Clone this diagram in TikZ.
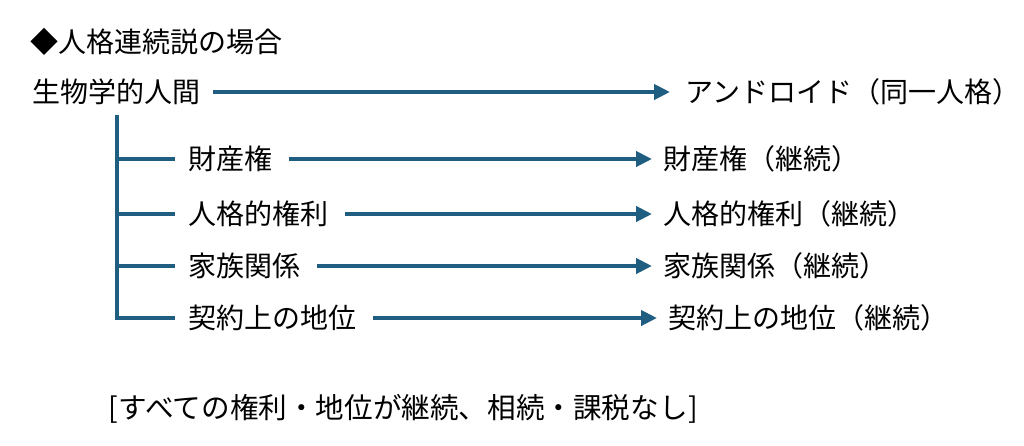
\documentclass[tikz,border=0pt]{standalone}
\usepackage{fontspec}
\setmainfont{Noto Sans CJK JP}
\usetikzlibrary{arrows.meta}
\definecolor{linkblue}{HTML}{1F5E80}

\begin{document}
\begin{tikzpicture}[
  x=1pt,y=-1pt,
  every node/.style={font=\fontsize{28}{32}\selectfont,inner sep=0pt,anchor=west},
  link/.style={draw=linkblue,line width=4.5pt},
  flow/.style={link,-{Triangle[length=16pt,width=15pt]}},
]
\useasboundingbox (0,0) rectangle (1024,445);
\node (title) at (30,42) {◆人格連続説の場合};
\node (human) at (32,92) {生物学的人間};
\node (android) at (685,92) {アンドロイド（同一人格）};
\draw[flow,shorten <=13pt,shorten >=15pt] (human) -- (android);
\coordinate (trunk) at (117,115);
\foreach[count=\i] \y/\rx/\txt in {159/663/財産権,214/663/人格的権利,266/663/家族関係,318/668/契約上の地位} {
  \node (item\i) at (188,\y) {\txt};
  \node (kept\i) at (\rx,\y) {\txt（継続）};
  \draw[link,shorten >=13pt] (trunk) |- (item\i.west);
  \draw[flow,shorten <=17pt,shorten >=11pt] (item\i) -- (kept\i);
}
\node[font=\fontsize{28.6}{32}\selectfont] (note) at (108,409) {[\kern1ptすべての権利・地位が継続、相続・課税なし\kern1pt]};
\end{tikzpicture}
\end{document}
